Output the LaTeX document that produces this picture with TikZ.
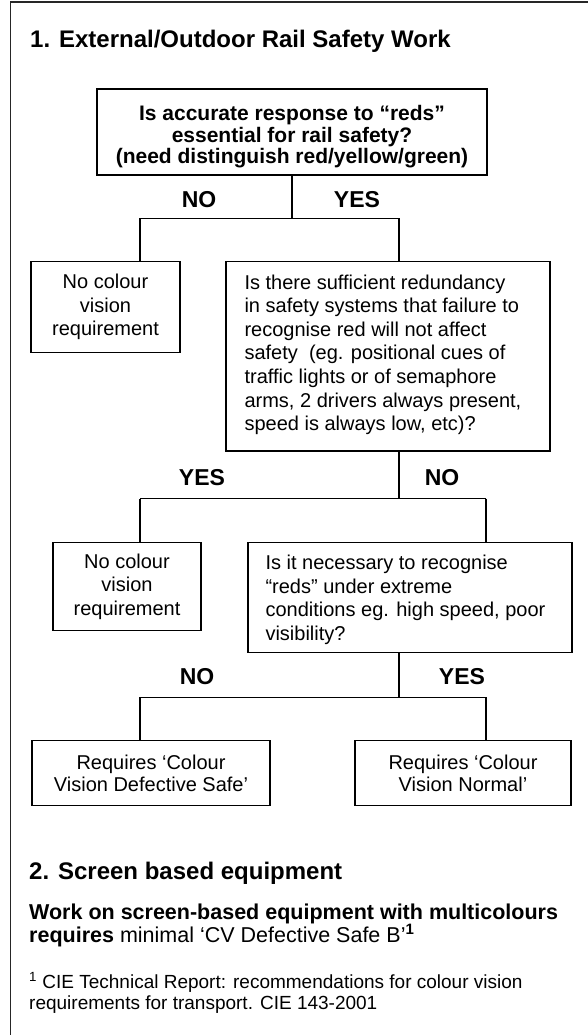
\documentclass[tikz,border=0pt]{standalone}
\usepackage{fontspec}
\setmainfont{Liberation Sans}
% font sizes used in the chart
\newcommand\bxfont{\fontsize{20}{23.6}\selectfont}
\newcommand\bxbold{\fontsize{21}{21.6}\selectfont\bfseries}
\newcommand\lblfont{\fontsize{23}{27}\selectfont\bfseries}
\newcommand\hdfont{\fontsize{24}{28}\selectfont\bfseries}
\newcommand\parfont{\fontsize{21.5}{24}\selectfont}
\newcommand\fnfont{\fontsize{19}{22}\selectfont}
\newcommand\rqfont{\fontsize{20}{21.6}\selectfont}
\begin{document}
\begin{tikzpicture}[x=1pt,y=-1pt,
  framestyle/.style={line width=1.6pt, black!85},
  link/.style={line width=1.2pt},
  box/.style={draw, line width=1.3pt, inner sep=0pt, align=center, font=\bxfont},
  qbox/.style={draw, line width=1.3pt, inner sep=0pt},
  qtext/.style={anchor=west, inner sep=0pt, align=left, font=\bxfont},
  lbl/.style={inner sep=0pt, font=\lblfont},
  plain/.style={anchor=base west, inner sep=0pt}]
\useasboundingbox (0,0) rectangle (588,1035);

% page frame (only top and left edges fall inside the page)
\draw[framestyle] (10.5,1035) -- (10.5,2) -- (588,2);

% section 1
\node[plain, font=\hdfont] (h1) at (30,48) {1. External/Outdoor Rail Safety Work};

\node[qbox, minimum width=390pt, minimum height=86pt] (b1) at (292,132) {};
\node[inner sep=0pt, align=center, font=\bxbold] (b1t) at (292,137)
  {Is accurate response to “reds”\\essential for rail safety?\\(need distinguish red/yellow/green)};

\node[box, minimum width=149pt, minimum height=91pt] (n1) at (105.5,307.2)
  {No colour\\vision\\requirement};

\node[qbox, minimum width=324pt, minimum height=189.3pt] (q2) at (388,356.3) {};
\node[qtext] (q2t) at ([xshift=19pt,yshift=1.5pt]q2.west)
  {Is there sufficient redundancy\\in safety systems that failure to\\recognise red will not affect\\safety~ (eg. positional cues of\\traffic lights or of semaphore\\arms, 2 drivers always present,\\speed is always low, etc)?};

\node[box, minimum width=148pt, minimum height=88pt] (n2) at (127,586.7)
  {No colour\\vision\\requirement};

\node[qbox, minimum width=324pt, minimum height=110pt] (q3) at (410,597.7) {};
\node[qtext] (q3t) at ([xshift=18pt,yshift=-2pt]q3.west)
  {Is it necessary to recognise\\“reds” under extreme\\conditions eg. high speed, poor\\visibility?};

\node[box, font=\rqfont, minimum width=238pt, minimum height=65pt] (r1) at (151,773.2)
  {Requires ‘Colour\\Vision Defective Safe’};
\node[box, font=\rqfont, minimum width=216pt, minimum height=65pt] (r2) at (463,773.2)
  {Requires ‘Colour\\Vision Normal’};

% branch points
\coordinate (j1) at (292,218.3);
\coordinate (j1l) at (140,218.3);
\coordinate (j1r) at (399,218.3);
\coordinate (j2) at (399,498.5);
\coordinate (j2l) at (140,498.5);
\coordinate (j2r) at (486,498.5);
\coordinate (j3) at (399,697.3);
\coordinate (j3l) at (140,697.3);
\coordinate (j3r) at (486,697.3);

% connectors
\draw[link] (b1.south) -- (j1);
\draw[link] (j1l) -- (j1r);
\draw[link] (j1l) -- (j1l |- n1.north);
\draw[link] (j1r) -- (j1r |- q2.north);

\draw[link] (j2 |- q2.south) -- (j2);
\draw[link] (j2l) -- (j2r);
\draw[link] (j2l) -- (j2l |- n2.north);
\draw[link] (j2r) -- (j2r |- q3.north);

\draw[link] (j3 |- q3.south) -- (j3);
\draw[link] (j3l) -- (j3r);
\draw[link] (j3l) -- (j3l |- r1.north);
\draw[link] (j3r) -- (j3r |- r2.north);

% branch labels
\node[lbl] (l1n) at (199,200) {NO};
\node[lbl] (l1y) at (357,200) {YES};
\node[lbl] (l2y) at (202,478) {YES};
\node[lbl] (l2n) at (442,478) {NO};
\node[lbl] (l3n) at (197,676.7) {NO};
\node[lbl] (l3y) at (462,676.7) {YES};

% section 2
\node[plain, font=\hdfont] (h2) at (29,879) {2. Screen based equipment};
\node[plain, font=\parfont] (p1) at (29,919) {\bfseries Work on screen-based equipment with multicolours};
\node[plain, font=\parfont] (p2) at (29,942.5) {\textbf{requires} minimal ‘CV Defective Safe B’\textsuperscript{\textbf{1}}};

% footnote
\node[plain, font=\fnfont] (f1) at (29,988) {\textsuperscript{1} CIE Technical Report: recommendations for colour vision};
\node[plain, font=\fnfont] (f2) at (29,1009) {requirements for transport. CIE 143-2001};
\end{tikzpicture}
\end{document}
